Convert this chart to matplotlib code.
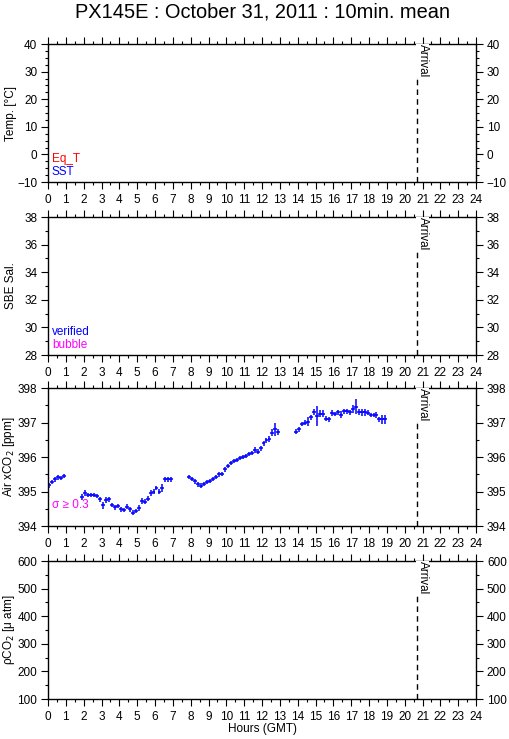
import numpy as np
import matplotlib
matplotlib.use('Agg')
import matplotlib.pyplot as plt
from matplotlib.ticker import MultipleLocator

plt.rcParams['font.family'] = ['Liberation Sans', 'DejaVu Sans']

# ── Data ──────────────────────────────────────────────
# Air xCO2, 10 min means (hours GMT)
hours = [
    0.083, 0.25, 0.417, 0.583, 0.75, 0.917,
    1.917, 2.083, 2.25, 2.417, 2.583, 2.75, 2.917, 3.083, 3.25, 3.417,
    3.583, 3.75, 3.917, 4.083, 4.25, 4.417, 4.583, 4.75, 4.917, 5.083,
    5.25, 5.417, 5.583, 5.75, 5.917, 6.083, 6.25, 6.417, 6.583, 6.75, 6.917,
    7.917, 8.083, 8.25, 8.417, 8.583, 8.75, 8.917, 9.083, 9.25, 9.417,
    9.583, 9.75, 9.917, 10.083, 10.25, 10.417, 10.583, 10.75, 10.917, 11.083,
    11.25, 11.417, 11.583, 11.75, 11.917, 12.083, 12.25, 12.417, 12.583, 12.75, 12.917,
    13.917, 14.083, 14.25, 14.417, 14.583, 14.75, 14.917, 15.083, 15.25, 15.417,
    15.583, 15.75, 15.917, 16.083, 16.25, 16.417, 16.583, 16.75, 16.917, 17.083,
    17.25, 17.417, 17.583, 17.75, 17.917, 18.083, 18.25, 18.417, 18.583, 18.75, 18.917,
]
xco2 = [
    395.18, 395.28, 395.35, 395.41, 395.39, 395.45,
    394.84, 394.96, 394.89, 394.89, 394.89, 394.87, 394.78, 394.60, 394.75, 394.77,
    394.61, 394.54, 394.58, 394.48, 394.46, 394.56, 394.48, 394.39, 394.43, 394.52,
    394.72, 394.70, 394.79, 394.95, 394.99, 395.10, 394.99, 395.11, 395.35, 395.35, 395.35,
    395.42, 395.36, 395.30, 395.21, 395.17, 395.23, 395.27, 395.30, 395.36, 395.42,
    395.50, 395.52, 395.64, 395.73, 395.82, 395.88, 395.91, 395.98, 396.00, 396.04,
    396.10, 396.11, 396.20, 396.16, 396.25, 396.40, 396.48, 396.52, 396.70, 396.80, 396.72,
    396.74, 396.80, 396.96, 397.00, 397.03, 397.15, 397.30, 397.19, 397.25, 397.25,
    397.11, 397.09, 397.27, 397.25, 397.30, 397.23, 397.33, 397.33, 397.30, 397.40,
    397.46, 397.30, 397.30, 397.30, 397.28, 397.22, 397.22, 397.23, 397.09, 397.09, 397.09,
]
xco2_sd = [
    0.07, 0.06, 0.06, 0.07, 0.06, 0.06,
    0.09, 0.08, 0.06, 0.06, 0.06, 0.07, 0.07, 0.11, 0.08, 0.06,
    0.07, 0.08, 0.06, 0.07, 0.06, 0.07, 0.06, 0.07, 0.06, 0.08,
    0.08, 0.07, 0.07, 0.08, 0.07, 0.07, 0.07, 0.11, 0.08, 0.08, 0.08,
    0.07, 0.06, 0.07, 0.07, 0.07, 0.06, 0.06, 0.06, 0.06, 0.06,
    0.07, 0.06, 0.06, 0.06, 0.06, 0.06, 0.06, 0.06, 0.06, 0.06,
    0.06, 0.06, 0.08, 0.07, 0.08, 0.07, 0.07, 0.08, 0.10, 0.19, 0.08,
    0.07, 0.06, 0.07, 0.07, 0.13, 0.07, 0.09, 0.29, 0.10, 0.10,
    0.07, 0.06, 0.09, 0.07, 0.07, 0.10, 0.07, 0.07, 0.07, 0.12,
    0.22, 0.09, 0.10, 0.10, 0.07, 0.07, 0.07, 0.09, 0.08, 0.13, 0.13,
]
arrival_hour = 20.68

panels = [
    dict(ylim=(-10, 40), major=10, minor=2.5, label='Temp. [°C]'),
    dict(ylim=(28, 38), major=2, minor=1, label='SBE Sal.'),
    dict(ylim=(394, 398), major=1, minor=0.5, label='Air xCO$_2$ [ppm]'),
    dict(ylim=(100, 600), major=100, minor=50, label='ρCO$_2$ [μ atm]'),
]

# ── Plot ──────────────────────────────────────────────
fig = plt.figure(figsize=(5.09, 7.39), dpi=100)
bottoms = [0.7537, 0.5196, 0.2882, 0.0541]
axes = []
for b, p in zip(bottoms, panels):
    ax = fig.add_axes([0.0943, b, 0.841, 0.1867])
    ax.set_xlim(0, 24)
    ax.set_ylim(*p['ylim'])
    ax.xaxis.set_major_locator(MultipleLocator(1))
    ax.xaxis.set_minor_locator(MultipleLocator(0.5))
    ax.yaxis.set_major_locator(MultipleLocator(p['major']))
    ax.yaxis.set_minor_locator(MultipleLocator(p['minor']))
    ax.tick_params(which='both', direction='out', top=True, right=True,
                   labelright=True, width=0.8, labelsize=8.5, colors='black')
    ax.tick_params(which='major', length=4.8, pad=3)
    ax.tick_params(axis='x', which='major', pad=3.5)
    ax.tick_params(which='minor', length=2.4)
    for s in ax.spines.values():
        s.set_linewidth(1.0)
    ax.set_ylabel(p['label'], fontsize=8.5)
    ax.yaxis.set_label_coords(-0.072, 0.5)

    ax.axvline(arrival_hour, color='black', lw=1.0, ls=(0, (4, 3)))
    ax.text(arrival_hour, p['ylim'][1], 'Arrival', rotation=270,
            ha='left', va='top', fontsize=8.5,
            bbox=dict(facecolor='white', edgecolor='none', pad=0.3))
    axes.append(ax)

ax1, ax2, ax3, ax4 = axes

ax1.text(0.009, 0.167, 'Eq_T', color='red', fontsize=8.5,
         transform=ax1.transAxes, va='center')
ax1.text(0.009, 0.075, 'SST', color='blue', fontsize=8.5,
         transform=ax1.transAxes, va='center')
ax2.text(0.009, 0.168, 'verified', color='blue', fontsize=8.5,
         transform=ax2.transAxes, va='center')
ax2.text(0.009, 0.072, 'bubble', color='magenta', fontsize=8.5,
         transform=ax2.transAxes, va='center')

ax3.errorbar(hours, xco2, xerr=0.11, yerr=xco2_sd, fmt='none',
             ecolor='blue', elinewidth=1.1, capsize=0)
ax3.text(0.009, 0.155, 'σ ≥ 0.3', color='magenta', fontsize=8.5,
         transform=ax3.transAxes, va='center')

ax4.set_xlabel('Hours (GMT)', fontsize=8.5, labelpad=0)

fig.suptitle('PX145E : October 31, 2011 : 10min. mean', x=0.515, y=0.997,
             fontsize=14.4, va='top')

fig.savefig('out.png', dpi=100)
